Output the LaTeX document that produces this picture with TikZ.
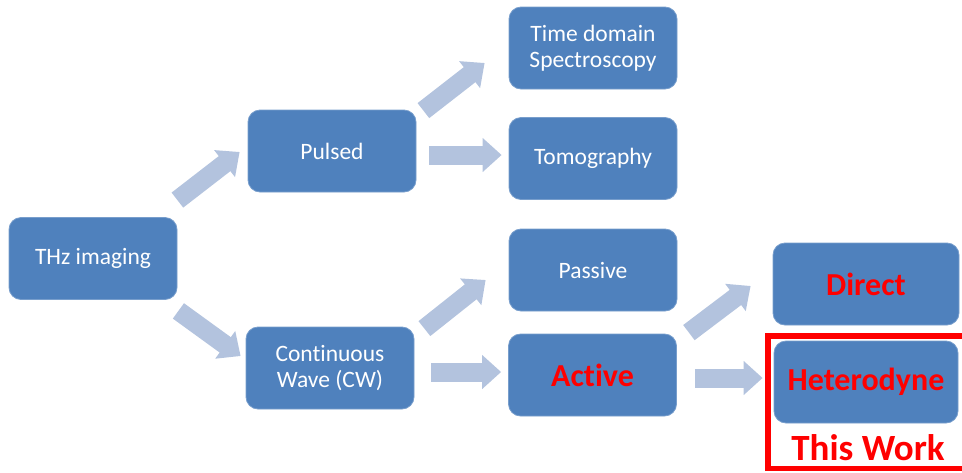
\documentclass[tikz,border=0pt]{standalone}
\usepackage{fontspec}
\setmainfont[Ligatures=NoCommon]{Carlito}
\usetikzlibrary{arrows.meta,calc}
\definecolor{boxblue}{RGB}{79,129,189}
\definecolor{boxedge}{RGB}{120,158,204}
\definecolor{arrblue}{RGB}{179,195,222}
\definecolor{hired}{RGB}{255,0,0}
\tikzset{
  box/.style={rectangle, rounded corners=12pt, fill=boxblue, draw=boxedge, line width=0.8pt,
    minimum width=168pt, minimum height=82pt, inner sep=0pt, align=center, text=white,
    font=\fontsize{23.5}{26.5}\selectfont},
  redtxt/.style={text=hired, font=\fontsize{32}{36}\selectfont\bfseries},
  arr/.style={draw=arrblue, line width=19pt, -{Triangle[length=19pt,width=33pt]}},
}
\begin{document}
\begin{tikzpicture}[x=1pt,y=-1pt]
\useasboundingbox (0,0) rectangle (962,472);
\node[box] (thz) at (93,258.5) {THz imaging};
\node[box] (pulsed) at (332,151) {Pulsed};
\node[box] (cw) at (330,368) {Continuous\\Wave (CW)};
\node[box] (time) at (593,48) {Time domain\\Spectroscopy};
\node[box] (tomo) at (593,158.5) {Tomography};
\node[box] (passive) at (593,270) {Passive};
\node[box, redtxt] (active) at (592.5,375) {Active};
\node[box, redtxt, minimum width=186pt] (direct) at (866,284) {Direct};
\node[box, redtxt, minimum width=184pt] (het) at (866,382) {Heterodyne};
\node[text=hired, font=\fontsize{37}{40}\selectfont\bfseries] (work) at (868,448) {This Work};
\begin{scope}
\clip (0,0) rectangle (962,472);
\draw[hired, line width=5.5pt] (768,336) rectangle (975,468.5);
\end{scope}
\draw[arr] ($(thz.north east)+(0,-17)$) -- ($(pulsed.west)+(-8,1)$);
\draw[arr] ($(thz.south east)+(1,11)$) -- ($(cw.west)+(-5,-12)$);
\draw[arr] ($(pulsed.north east)+(7,1)$) -- ($(time.west)+(-24,15)$);
\draw[arr] ($(pulsed.east)+(13,4)$) -- ($(tomo.west)+(-7,-3.5)$);
\draw[arr] ($(cw.north east)+(10,2)$) -- ($(passive.west)+(-23,10)$);
\draw[arr] ($(cw.east)+(17,4)$) -- ($(active.west)+(-7,-3)$);
\draw[arr] ($(active.north east)+(12,-1)$) -- ($(direct.west)+(-22,2)$);
\draw[arr] ($(active.east)+(18,3)$) -- ($(het.west)+(-11,-4)$);
\end{tikzpicture}
\end{document}
